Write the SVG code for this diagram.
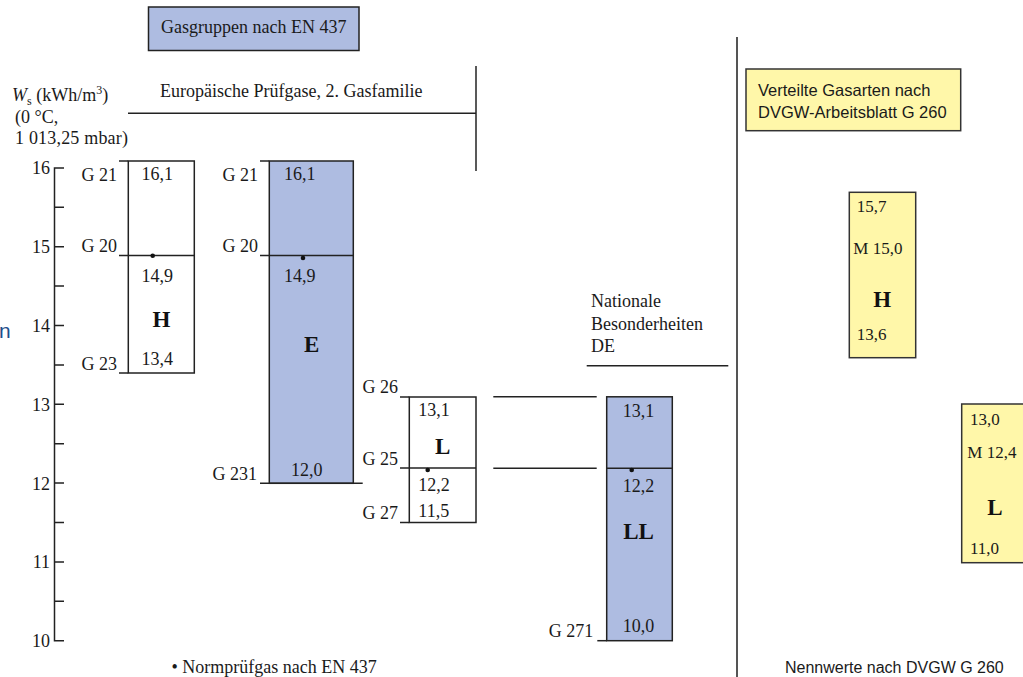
<svg xmlns="http://www.w3.org/2000/svg" width="1023" height="677" viewBox="0 0 1023 677">
<style>
.s{font-family:"Liberation Serif","Times New Roman",serif;font-size:18px;fill:#1a1a1a}
.v{font-family:"Liberation Serif","Times New Roman",serif;font-size:17px;fill:#1a1a1a}
.b{font-family:"Liberation Serif","Times New Roman",serif;font-size:23px;font-weight:bold;fill:#111}
.ss{font-family:"Liberation Sans",Arial,sans-serif;font-size:16.5px;fill:#1a1a1a}
.ln{stroke:#222;stroke-width:1.5;fill:none}
.blue{fill:#aebce1;stroke:#222;stroke-width:1.5}
.wht{fill:#fff;stroke:#222;stroke-width:1.5}
.yel{fill:#fff7a9;stroke:#333;stroke-width:1.5}
.r{text-anchor:end}
.m{text-anchor:middle}
</style>
<rect width="1023" height="677" fill="#fff"/>

<g id="title-en437">
<rect x="148.5" y="7" width="210.5" height="43.5" class="blue"/>
<text x="253.7" y="33" class="s m">Gasgruppen nach EN 437</text>
</g>

<g id="header-eu">
<text x="160" y="96.5" class="s">Europäische Prüfgase, 2. Gasfamilie</text>
<line x1="128" y1="113.3" x2="476" y2="113.3" class="ln"/>
<line x1="476" y1="66" x2="476" y2="171" class="ln"/>
</g>

<g id="axis">
<text x="12" y="101" class="s"><tspan font-style="italic">W</tspan><tspan font-size="12" dy="4">s</tspan><tspan dy="-4"> (kWh/m</tspan><tspan font-size="12" dy="-7">3</tspan><tspan dy="7">)</tspan></text>
<text x="15" y="123" class="s">(0 °C,</text>
<text x="15" y="143.5" class="s" textLength="113">1 013,25 mbar)</text>
<path d="M64 167.9H54.5V640.7H64" class="ln"/>
<path d="M54.5 207.3H64M54.5 246.7H64M54.5 286.1H64M54.5 325.5H64M54.5 364.9H64M54.5 404.3H64M54.5 443.7H64M54.5 483.1H64M54.5 522.5H64M54.5 561.9H64M54.5 601.3H64" class="ln"/>
<text x="50" y="174" class="s r">16</text>
<text x="50" y="253" class="s r">15</text>
<text x="50" y="332" class="s r">14</text>
<text x="50" y="410.5" class="s r">13</text>
<text x="50" y="489.5" class="s r">12</text>
<text x="50" y="568" class="s r">11</text>
<text x="50" y="647" class="s r">10</text>
</g>

<text x="-1" y="338" font-family="'Liberation Sans',Arial,sans-serif" font-size="21" fill="#1f4e8c">n</text>

<g id="box-H">
<rect x="128.3" y="161" width="66" height="212" class="wht"/>
<line x1="119" y1="161" x2="128.3" y2="161" class="ln"/>
<line x1="119" y1="255.5" x2="194.3" y2="255.5" class="ln"/>
<line x1="119" y1="373" x2="128.3" y2="373" class="ln"/>
<circle cx="152.7" cy="255.7" r="2.3" fill="#111"/>
<text x="117" y="181" class="s r">G 21</text>
<text x="117" y="252" class="s r">G 20</text>
<text x="117" y="370" class="s r">G 23</text>
<text x="141.5" y="180" class="s">16,1</text>
<text x="141.5" y="282" class="s">14,9</text>
<text x="161.5" y="327" class="b m">H</text>
<text x="141.5" y="365" class="s">13,4</text>
</g>

<g id="box-E">
<rect x="269.3" y="161" width="84" height="322.3" class="blue"/>
<line x1="260" y1="161" x2="269.3" y2="161" class="ln"/>
<line x1="260" y1="255.5" x2="353.3" y2="255.5" class="ln"/>
<line x1="260" y1="483.3" x2="362.7" y2="483.3" class="ln"/>
<circle cx="303" cy="258" r="2.3" fill="#111"/>
<text x="258" y="181" class="s r">G 21</text>
<text x="258" y="252" class="s r">G 20</text>
<text x="257" y="480" class="s r">G 231</text>
<text x="284" y="180" class="s">16,1</text>
<text x="284" y="282" class="s">14,9</text>
<text x="311.7" y="351.5" class="b m">E</text>
<text x="306.7" y="475.5" class="s m">12,0</text>
</g>

<g id="box-L">
<rect x="409.3" y="397" width="66.7" height="125.5" class="wht"/>
<line x1="400" y1="397" x2="409.3" y2="397" class="ln"/>
<line x1="400" y1="468" x2="476" y2="468" class="ln"/>
<line x1="400" y1="522.5" x2="409.3" y2="522.5" class="ln"/>
<circle cx="427.7" cy="470" r="2.3" fill="#111"/>
<text x="398" y="393" class="s r">G 26</text>
<text x="398" y="465" class="s r">G 25</text>
<text x="398" y="519" class="s r">G 27</text>
<text x="418.3" y="415.5" class="s">13,1</text>
<text x="442.7" y="453.5" class="b m">L</text>
<text x="418.3" y="491" class="s">12,2</text>
<text x="418.3" y="517" class="s">11,5</text>
</g>

<g id="connectors">
<line x1="493.3" y1="396.8" x2="596.7" y2="396.8" class="ln"/>
<line x1="493.3" y1="468.3" x2="596.7" y2="468.3" class="ln"/>
</g>

<g id="header-de">
<text x="591" y="306.5" class="s">Nationale</text>
<text x="591" y="330" class="s">Besonderheiten</text>
<text x="591" y="351.5" class="s">DE</text>
<line x1="586.7" y1="365.7" x2="728.3" y2="365.7" class="ln"/>
</g>

<g id="box-LL">
<rect x="606.7" y="396.8" width="65.6" height="243.9" class="blue"/>
<line x1="606.7" y1="468.3" x2="672.3" y2="468.3" class="ln"/>
<line x1="597.3" y1="640.7" x2="606.7" y2="640.7" class="ln"/>
<circle cx="631.7" cy="470" r="2.3" fill="#111"/>
<text x="593.3" y="637" class="s r">G 271</text>
<text x="638.5" y="416.5" class="s m">13,1</text>
<text x="638.5" y="492" class="s m">12,2</text>
<text x="638.5" y="538.5" class="b m">LL</text>
<text x="638.5" y="632" class="s m">10,0</text>
</g>

<line x1="737" y1="37" x2="737" y2="677" stroke="#555" stroke-width="2"/>

<g id="title-g260">
<rect x="746" y="69" width="214.7" height="61.7" class="yel"/>
<text x="758" y="96" class="ss">Verteilte Gasarten nach</text>
<text x="758" y="117.5" class="ss">DVGW-Arbeitsblatt G 260</text>
</g>

<g id="box-yH">
<rect x="849.3" y="192.3" width="66.4" height="165.4" class="yel"/>
<text x="856.7" y="212" class="v">15,7</text>
<text x="853.3" y="253.5" class="v">M 15,0</text>
<text x="882.3" y="306.5" class="b m">H</text>
<text x="856.7" y="340" class="v">13,6</text>
</g>

<g id="box-yL">
<rect x="961.7" y="404" width="70" height="158.7" class="yel"/>
<text x="970" y="424.5" class="v">13,0</text>
<text x="967.3" y="457.5" class="v">M 12,4</text>
<text x="995" y="515" class="b m">L</text>
<text x="970" y="554" class="v">11,0</text>
</g>

<text x="171.5" y="673" class="s">• Normprüfgas nach EN 437</text>
<text x="785" y="673" font-family="'Liberation Sans',Arial,sans-serif" font-size="16" fill="#1a1a1a">Nennwerte nach DVGW G 260</text>
</svg>
